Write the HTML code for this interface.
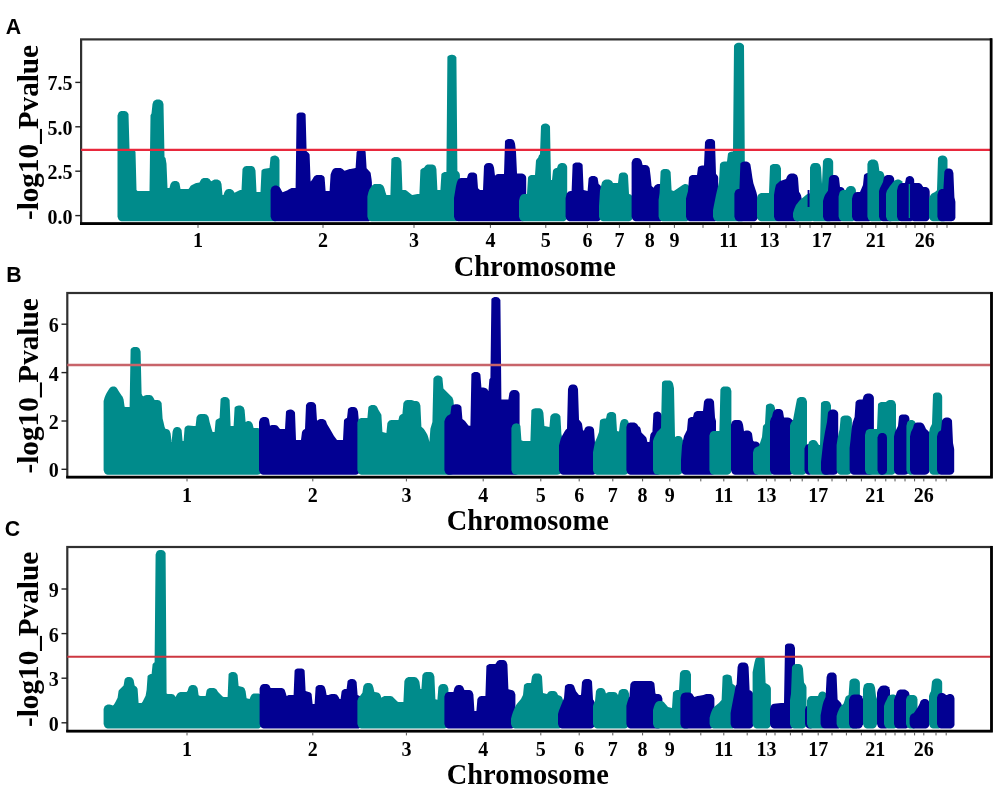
<!DOCTYPE html>
<html><head><meta charset="utf-8"><title>Manhattan plots</title>
<style>html,body{margin:0;padding:0;background:#fff}svg{display:block}</style></head>
<body>
<svg width="1000" height="798" viewBox="0 0 1000 798">
<rect width="1000" height="798" fill="#fff"/>
<g>
<text x="5.8" y="34.2" font-family="'Liberation Sans', sans-serif" font-weight="bold" font-size="21.3" fill="#000">A</text>
<rect x="81.1" y="39.4" width="910.0" height="184.2" fill="#fff" stroke="#303030" stroke-width="2.2"/>
<path fill="#008b8b" d="M117.5,115.5 118.5,112.7 119.5,111.8 120.5,111.3 121.5,111.0 124.5,111.0 125.5,111.2 126.5,111.6 127.5,112.4 128.5,114.0 129.5,149.1 131.5,149.3 132.5,149.4 133.5,149.7 134.5,150.4 135.5,151.7 136.5,190.0 137.5,191.0 149.5,191.0 150.5,115.3 151.5,113.6 152.5,104.1 153.5,101.3 154.5,100.4 155.5,99.9 156.5,99.6 158.5,99.6 159.5,99.6 160.5,99.9 161.5,100.4 162.5,101.3 163.5,104.1 164.5,157.0 165.5,158.1 166.5,163.8 167.5,188.0 169.5,188.0 170.5,184.0 171.5,182.4 172.5,181.6 173.5,181.2 174.5,181.0 175.5,181.0 176.5,181.1 177.5,181.5 178.5,182.1 179.5,183.4 180.5,189.0 188.5,189.0 189.5,187.7 190.5,186.0 191.5,185.3 195.5,183.3 196.5,182.9 199.5,182.5 200.5,180.4 201.5,179.1 202.5,178.5 203.5,178.1 204.5,178.0 206.5,178.0 207.5,178.1 208.5,178.5 209.5,179.1 210.5,180.4 211.5,181.3 212.5,180.4 213.5,179.9 214.5,179.6 216.5,179.6 217.5,179.6 218.5,179.9 219.5,180.4 220.5,181.3 221.5,184.1 222.5,195.0 223.5,195.0 224.5,192.0 225.5,190.4 226.5,189.6 227.5,189.2 228.5,189.0 229.5,189.0 230.5,189.1 231.5,189.4 232.5,189.9 233.5,191.0 234.5,192.8 238.5,190.8 239.5,190.3 240.5,190.1 241.5,190.0 242.5,169.0 243.5,167.4 244.5,166.6 245.5,166.2 246.5,166.0 250.5,166.0 251.5,166.0 252.5,166.3 253.5,166.8 254.5,167.7 255.5,170.5 256.5,192.0 260.5,192.0 261.5,170.6 262.5,169.5 263.5,169.0 264.5,168.7 269.5,168.0 270.5,157.6 271.5,156.5 272.5,156.0 273.5,155.7 274.5,155.6 275.5,155.6 276.5,155.9 277.5,156.4 278.5,157.3 279.5,160.1 L279.5,217.7 278.5,219.7 277.5,220.6 276.5,221.1 275.5,221.3 122.5,221.3 121.5,221.3 120.5,221.0 119.5,220.5 118.5,219.6 117.5,216.8Z"/>
<path fill="#020092" d="M270.6,190.1 271.6,187.3 272.6,186.4 273.6,185.9 274.6,185.6 275.6,185.6 276.6,185.6 277.6,185.9 278.6,186.4 279.6,187.2 280.6,188.8 281.6,190.8 282.6,192.3 287.6,190.2 288.6,189.6 289.6,188.9 290.6,188.4 291.6,188.1 292.6,188.0 295.6,188.0 296.6,114.4 297.6,113.3 298.6,112.8 299.6,112.5 300.6,112.4 301.6,112.4 302.6,112.5 303.6,112.8 304.6,113.3 305.6,114.4 306.6,151.2 308.6,152.9 309.6,154.5 310.6,181.4 311.6,180.4 312.6,179.0 313.6,177.3 314.6,176.1 315.6,175.5 316.6,175.1 317.6,175.0 320.6,175.0 321.6,175.1 322.6,175.5 323.6,176.1 324.6,177.4 325.6,191.0 329.6,191.0 330.6,174.4 331.6,171.7 332.6,169.7 333.6,168.8 334.6,168.3 335.6,168.1 336.6,168.0 339.6,168.0 340.6,168.1 341.6,168.5 342.6,169.0 343.6,170.1 344.6,170.8 349.6,169.1 350.6,168.9 355.6,168.1 356.6,152.0 357.6,150.7 358.6,150.1 359.6,149.7 360.6,149.6 361.6,149.6 362.6,149.7 363.6,150.0 364.6,150.5 365.6,151.6 366.6,168.2 369.6,171.5 370.6,172.8 371.6,179.6 371.9,182.4 L371.9,218.0 371.6,218.7 370.6,220.1 369.6,220.8 368.6,221.2 367.6,221.3 275.6,221.3 274.6,221.3 273.6,221.0 272.6,220.5 271.6,219.6 270.6,216.8Z"/>
<path fill="#008b8b" d="M367.4,196.5 368.4,192.3 369.4,189.4 371.4,186.4 372.4,185.2 373.4,184.5 374.4,184.1 375.4,184.0 379.4,184.0 380.4,184.1 381.4,184.4 382.4,184.9 383.4,186.0 384.4,188.2 385.4,192.0 386.4,195.0 390.4,195.0 391.4,159.0 392.4,157.9 393.4,157.4 394.4,157.1 395.4,157.0 397.4,157.0 398.4,157.3 399.4,157.8 400.4,158.7 401.4,161.5 402.4,190.0 404.4,190.0 405.4,190.1 406.4,190.5 407.4,191.2 411.4,194.5 412.4,194.9 417.4,194.1 418.4,194.0 419.4,194.0 420.4,170.0 421.4,168.9 422.4,168.3 423.4,168.1 424.4,167.3 425.4,165.8 426.4,165.0 427.4,164.6 428.4,164.4 431.4,164.4 432.4,164.4 433.4,164.7 434.4,165.2 435.4,166.1 436.4,168.9 437.4,190.0 440.4,190.0 441.4,174.0 442.4,172.9 443.4,172.4 444.4,172.1 445.4,172.0 446.4,172.0 447.4,56.8 448.4,55.7 449.4,55.2 450.4,54.9 451.4,54.8 452.4,54.8 453.4,54.9 454.4,55.3 455.4,55.9 456.4,57.2 457.4,171.1 458.4,171.8 459.4,173.1 459.9,175.1 L459.9,217.7 459.4,219.0 458.4,220.2 457.4,220.9 456.4,221.2 455.4,221.3 372.4,221.3 371.4,221.3 370.4,221.0 369.4,220.5 368.4,219.6 367.4,216.8Z"/>
<path fill="#020092" d="M454.0,198.0 456.0,186.0 457.0,182.0 458.0,179.7 459.0,178.8 460.0,178.3 461.0,178.0 467.0,178.0 468.0,174.4 469.0,173.3 470.0,172.8 471.0,172.5 472.0,172.4 473.0,172.4 474.0,172.5 475.0,172.9 476.0,173.5 477.0,174.8 478.0,188.3 480.0,190.0 483.0,190.0 484.0,166.0 485.0,164.4 486.0,163.6 487.0,163.2 488.0,163.0 490.0,163.0 491.0,163.3 492.0,163.8 493.0,164.7 494.0,167.5 495.0,175.7 496.0,174.8 497.0,174.3 498.0,174.0 504.0,174.0 505.0,141.0 506.0,139.9 507.0,139.4 508.0,139.1 509.0,139.0 511.0,139.0 512.0,139.3 513.0,139.8 514.0,140.7 515.0,143.5 516.0,151.7 517.0,173.6 522.0,173.6 523.0,173.8 524.0,174.2 525.0,175.0 526.0,176.6 526.2,178.1 L526.2,218.0 526.0,218.7 525.0,220.1 524.0,220.8 523.0,221.2 522.0,221.3 459.0,221.3 458.0,221.3 457.0,221.0 456.0,220.5 455.0,219.6 454.0,216.8Z"/>
<path fill="#008b8b" d="M519.0,200.7 520.0,197.0 521.0,195.4 522.0,194.6 523.0,194.2 524.0,194.0 527.0,194.0 528.0,177.4 529.0,176.1 530.0,175.5 531.0,175.1 532.0,175.0 535.0,175.0 536.0,160.4 537.0,158.8 538.0,158.0 539.0,155.2 540.0,154.2 541.0,126.0 542.0,124.7 543.0,124.1 544.0,123.7 545.0,123.6 546.0,123.6 547.0,123.8 548.0,124.2 549.0,125.0 550.0,126.6 551.0,180.0 552.0,180.0 553.0,170.4 554.0,169.1 555.0,168.5 556.0,168.1 557.0,168.0 558.0,165.0 559.0,163.9 560.0,163.4 561.0,163.1 562.0,163.0 563.0,163.0 564.0,163.2 565.0,163.6 566.0,164.4 567.0,166.0 567.2,167.5 L567.2,218.0 567.0,218.7 566.0,220.1 565.0,220.8 564.0,221.2 563.0,221.3 524.0,221.3 523.0,221.3 522.0,221.0 521.0,220.5 520.0,219.6 519.0,216.8Z"/>
<path fill="#020092" d="M565.6,198.2 566.6,193.7 567.6,192.4 568.6,191.6 569.6,191.2 570.6,191.0 571.6,191.0 572.6,164.8 573.6,163.5 574.6,162.9 575.6,162.5 576.6,162.4 578.6,162.4 579.6,162.5 580.6,162.9 581.6,163.5 582.6,164.8 583.6,190.1 587.6,190.9 588.6,178.4 589.6,177.1 590.6,176.5 591.6,176.1 592.6,176.0 593.6,176.0 594.6,176.1 595.6,176.4 596.6,176.9 597.6,178.0 598.6,184.1 599.6,184.7 600.6,185.7 601.6,188.5 L601.6,216.8 600.6,219.6 599.6,220.5 598.6,221.0 597.6,221.3 570.6,221.3 569.6,221.3 568.6,221.0 567.6,220.5 566.6,219.6 565.6,216.8Z"/>
<path fill="#008b8b" d="M599.0,206.0 600.0,190.5 601.0,186.3 602.0,182.3 603.0,181.0 604.0,180.2 605.0,179.8 606.0,179.6 608.0,179.6 609.0,179.6 610.0,179.9 611.0,180.4 612.0,181.3 613.0,183.0 618.0,183.0 619.0,174.4 620.0,173.3 621.0,172.8 622.0,172.5 623.0,172.4 624.0,172.4 625.0,172.6 626.0,173.0 627.0,173.8 628.0,175.4 629.0,194.0 630.0,194.3 631.0,194.8 632.0,195.7 633.0,198.5 L633.0,216.8 632.0,219.6 631.0,220.5 630.0,221.0 629.0,221.3 604.0,221.3 603.0,221.3 602.0,221.0 601.0,220.5 600.0,219.6 599.0,216.8Z"/>
<path fill="#020092" d="M631.6,162.5 632.6,159.7 633.6,158.8 634.6,158.3 635.6,158.0 637.6,158.0 638.6,158.2 639.6,158.6 640.6,159.4 641.6,161.0 642.6,165.0 645.6,165.0 646.6,165.2 647.6,165.6 648.6,166.4 649.6,168.0 650.6,176.0 651.6,186.0 653.6,187.7 654.6,186.0 655.6,184.9 656.6,184.4 657.6,184.1 658.6,184.0 659.6,184.0 660.6,184.2 661.6,184.6 662.6,185.4 663.6,187.0 663.9,188.5 L663.9,218.0 663.6,218.7 662.6,220.1 661.6,220.8 660.6,221.2 659.6,221.3 636.6,221.3 635.6,221.3 634.6,221.0 633.6,220.5 632.6,219.6 631.6,216.8Z"/>
<path fill="#008b8b" d="M658.6,200.0 659.6,192.9 660.6,171.4 661.6,170.1 662.6,169.5 663.6,169.1 664.6,169.0 666.6,169.0 667.6,169.2 668.6,169.6 669.6,170.4 670.6,172.0 671.6,190.2 673.6,190.9 674.6,190.6 682.6,185.0 683.6,184.4 684.6,184.1 685.6,184.1 686.6,184.2 687.6,184.6 688.6,185.4 689.6,187.1 689.9,188.5 L689.9,218.0 689.6,218.7 688.6,220.1 687.6,220.8 686.6,221.2 685.6,221.3 663.6,221.3 662.6,221.3 661.6,221.0 660.6,220.5 659.6,219.6 658.6,216.8Z"/>
<path fill="#020092" d="M686.0,198.6 687.0,194.7 688.0,191.3 689.0,177.4 690.0,176.1 691.0,175.5 692.0,175.1 693.0,175.0 697.0,175.0 698.0,167.6 699.0,166.5 700.0,166.0 701.0,165.7 702.0,165.6 704.0,165.6 705.0,142.0 706.0,140.4 707.0,139.6 708.0,139.2 709.0,139.0 711.0,139.0 712.0,139.1 713.0,139.5 714.0,140.1 715.0,141.4 716.0,174.1 717.0,174.9 718.0,176.6 718.2,178.0 L718.2,218.0 718.0,218.7 717.0,220.1 716.0,220.8 715.0,221.2 714.0,221.3 691.0,221.3 690.0,221.3 689.0,221.0 688.0,220.5 687.0,219.6 686.0,216.8Z"/>
<path fill="#008b8b" d="M713.0,210.2 714.0,205.0 716.0,195.0 719.0,182.0 720.0,164.0 721.0,162.7 722.0,162.1 723.0,161.7 724.0,161.6 727.0,161.6 728.0,153.6 729.0,152.5 730.0,152.0 731.0,151.7 732.0,151.6 733.0,151.6 734.0,45.8 735.0,44.2 736.0,43.4 737.0,43.0 738.0,42.8 740.0,42.8 741.0,43.0 742.0,43.4 743.0,44.2 744.0,45.8 745.0,190.5 746.0,193.4 L746.0,216.8 745.0,219.6 744.0,220.5 743.0,221.0 742.0,221.3 718.0,221.3 717.0,221.3 716.0,221.0 715.0,220.5 714.0,219.6 713.0,216.8Z"/>
<path fill="#020092" d="M734.4,193.5 735.4,190.7 736.4,189.8 737.4,189.3 738.4,189.0 739.4,189.0 740.4,163.6 741.4,162.5 742.4,162.0 743.4,161.7 744.4,161.6 746.4,161.6 747.4,161.8 748.4,162.2 749.4,163.0 750.4,164.6 751.4,170.8 752.4,177.8 753.4,183.2 756.4,192.2 757.4,196.4 757.9,199.4 L757.9,217.7 757.4,219.0 756.4,220.2 755.4,220.9 754.4,221.2 753.4,221.3 739.4,221.3 738.4,221.3 737.4,221.0 736.4,220.5 735.4,219.6 734.4,216.8Z"/>
<path fill="#008b8b" d="M757.0,198.2 758.0,195.0 759.0,193.9 760.0,193.4 761.0,193.1 762.0,193.0 769.0,193.0 770.0,166.0 771.0,164.9 772.0,164.4 773.0,164.1 774.0,164.0 776.0,164.0 777.0,164.0 778.0,164.3 779.0,164.8 780.0,165.7 781.0,168.5 L781.0,217.1 780.0,219.6 779.0,220.5 778.0,221.0 777.0,221.3 762.0,221.3 761.0,221.3 760.0,221.0 759.0,220.5 758.0,219.6 757.0,216.8Z"/>
<path fill="#020092" d="M774.0,195.0 775.0,188.8 776.0,184.8 777.0,183.7 779.0,181.9 780.0,181.1 781.0,180.7 786.0,179.0 787.0,176.4 788.0,175.0 789.0,174.2 790.0,173.8 791.0,173.6 793.0,173.6 794.0,173.6 795.0,173.9 796.0,174.4 797.0,175.3 798.0,178.1 799.0,191.7 800.0,193.3 801.0,195.2 802.0,200.2 L802.0,216.8 801.0,219.6 800.0,220.5 799.0,221.0 798.0,221.3 779.0,221.3 778.0,221.3 777.0,221.0 776.0,220.5 775.0,219.6 774.0,216.8Z"/>
<path fill="#008b8b" d="M793.0,212.9 794.0,209.7 795.0,207.3 796.0,205.1 797.0,203.8 799.0,201.2 800.0,200.0 806.0,194.9 807.0,194.2 808.0,193.8 810.0,193.3 811.0,193.3 812.0,193.5 813.0,194.0 814.0,194.9 815.0,197.8 L815.0,216.8 814.0,219.6 813.0,220.5 812.0,221.0 811.0,221.3 798.0,221.3 797.0,221.3 796.0,221.0 795.0,220.5 794.0,219.6 793.0,216.8Z"/>
<rect x="807.6" y="190.0" width="1.9" height="17.0" fill="#020092"/>
<path fill="#008b8b" d="M810.0,167.5 811.0,164.7 812.0,163.8 813.0,163.3 814.0,163.0 816.0,163.0 817.0,163.0 818.0,163.3 819.0,163.8 820.0,164.7 821.0,167.5 822.0,184.0 823.0,161.0 824.0,159.4 825.0,158.6 826.0,158.2 827.0,158.0 829.0,158.0 830.0,158.2 831.0,158.6 832.0,159.4 833.0,161.0 833.2,162.5 L833.2,218.0 833.0,218.7 832.0,220.1 831.0,220.8 830.0,221.2 829.0,221.3 815.0,221.3 814.0,221.3 813.0,221.0 812.0,220.5 811.0,219.6 810.0,216.8Z"/>
<path fill="#020092" d="M823.0,200.9 824.0,197.5 825.0,195.1 826.0,193.6 828.0,190.8 829.0,178.0 830.0,176.4 831.0,175.6 832.0,175.2 833.0,175.0 835.0,175.0 836.0,175.2 837.0,175.6 838.0,176.4 839.0,178.0 840.0,187.0 841.0,187.0 842.0,187.3 843.0,187.8 844.0,188.7 845.0,191.5 L845.0,217.1 844.0,219.6 843.0,220.5 842.0,221.0 841.0,221.3 828.0,221.3 827.0,221.3 826.0,221.0 825.0,220.5 824.0,219.6 823.0,216.8Z"/>
<path fill="#008b8b" d="M838.6,196.4 839.6,192.4 840.6,191.1 841.6,190.5 842.6,190.1 843.6,190.0 845.6,190.0 846.6,188.0 847.6,186.9 848.6,186.4 849.6,186.1 850.6,186.0 851.6,186.0 852.6,186.2 853.6,186.6 854.6,187.4 855.6,189.0 855.9,190.5 L855.9,218.0 855.6,218.7 854.6,220.1 853.6,220.8 852.6,221.2 851.6,221.3 843.6,221.3 842.6,221.3 841.6,221.0 840.6,220.5 839.6,219.6 838.6,216.8Z"/>
<path fill="#020092" d="M852.0,198.7 853.0,195.0 854.0,193.4 855.0,192.6 856.0,192.2 857.0,192.0 860.0,192.0 863.0,185.0 864.0,175.0 865.0,173.9 866.0,173.4 867.0,173.1 868.0,173.0 869.0,173.0 870.0,173.3 871.0,173.8 872.0,174.7 873.0,177.5 L873.0,217.1 872.0,219.6 871.0,220.5 870.0,221.0 869.0,221.3 857.0,221.3 856.0,221.3 855.0,221.0 854.0,220.5 853.0,219.6 852.0,216.8Z"/>
<path fill="#008b8b" d="M867.4,164.1 868.4,161.3 869.4,160.4 870.4,159.9 871.4,159.6 873.4,159.6 874.4,159.6 875.4,159.9 876.4,160.4 877.4,161.3 878.4,164.1 879.4,171.0 880.4,171.0 881.4,171.3 882.4,171.8 883.4,172.7 884.4,175.5 L884.4,217.1 883.4,219.6 882.4,220.5 881.4,221.0 880.4,221.3 872.4,221.3 871.4,221.3 870.4,221.0 869.4,220.5 868.4,219.6 867.4,216.8Z"/>
<path fill="#020092" d="M879.0,191.1 880.0,188.0 883.0,182.0 884.0,177.0 885.0,175.9 886.0,175.4 887.0,175.1 888.0,175.0 890.0,175.0 891.0,175.2 892.0,175.6 893.0,176.4 894.0,178.0 894.2,179.5 L894.2,218.0 894.0,218.7 893.0,220.1 892.0,220.8 891.0,221.2 890.0,221.3 884.0,221.3 883.0,221.3 882.0,221.0 881.0,220.5 880.0,219.6 879.0,216.8Z"/>
<path fill="#008b8b" d="M886.0,193.4 887.0,190.5 889.0,187.5 890.0,186.0 893.0,182.2 894.0,181.1 895.0,180.3 896.0,179.9 897.0,179.6 898.0,179.6 899.0,179.6 900.0,179.9 901.0,180.4 902.0,181.3 903.0,184.1 L903.0,217.1 902.0,219.6 901.0,220.5 900.0,221.0 899.0,221.3 891.0,221.3 890.0,221.3 889.0,221.0 888.0,220.5 887.0,219.6 886.0,216.8Z"/>
<path fill="#020092" d="M897.0,190.6 898.0,186.5 899.0,184.7 900.0,183.8 901.0,183.3 902.0,183.0 905.0,183.0 906.0,178.0 907.0,176.9 908.0,176.4 909.0,176.1 910.0,176.0 911.0,176.2 912.0,176.6 913.0,177.4 914.0,179.0 914.2,180.5 L914.2,218.0 914.0,218.7 913.0,220.1 912.0,220.8 911.0,221.2 910.0,221.3 902.0,221.3 901.0,221.3 900.0,221.0 899.0,220.5 898.0,219.6 897.0,216.8Z"/>
<rect x="908.7" y="184.0" width="1.4" height="34.0" fill="#008b8b"/>
<path fill="#020092" d="M910.2,187.5 911.2,184.7 912.2,183.8 913.2,183.3 914.2,183.0 918.2,183.0 919.2,183.1 920.2,183.5 921.2,184.1 922.2,185.4 923.2,187.0 925.2,187.0 926.2,187.1 927.2,187.5 928.2,188.1 929.2,189.4 929.7,191.5 L929.7,217.7 929.2,219.0 928.2,220.2 927.2,220.9 926.2,221.2 925.2,221.3 915.2,221.3 914.2,221.3 913.2,221.0 912.2,220.5 911.2,219.6 910.2,216.8Z"/>
<path fill="#008b8b" d="M929.0,199.1 930.0,196.0 931.0,194.4 932.0,193.5 935.0,192.0 937.0,190.3 938.0,158.0 939.0,156.7 940.0,156.1 941.0,155.7 942.0,155.6 943.0,155.6 944.0,155.7 945.0,156.1 946.0,156.7 947.0,158.0 947.5,160.1 L947.5,217.8 947.0,219.1 946.0,220.2 945.0,220.9 944.0,221.2 943.0,221.3 934.0,221.3 933.0,221.3 932.0,221.0 931.0,220.5 930.0,219.6 929.0,216.8Z"/>
<path fill="#020092" d="M937.4,194.7 938.4,191.4 939.4,190.1 940.4,189.5 941.4,189.1 942.4,189.0 943.4,189.0 944.4,171.4 945.4,169.8 946.4,169.0 947.4,168.6 948.4,168.4 949.4,168.4 950.4,168.7 951.4,169.2 952.4,170.1 953.4,172.9 954.4,197.2 955.4,201.7 L955.4,218.1 954.4,219.9 953.4,220.7 952.4,221.1 951.4,221.3 942.4,221.3 941.4,221.3 940.4,221.0 939.4,220.5 938.4,219.6 937.4,216.8Z"/>
<line x1="81.1" x2="991.1" y1="149.9" y2="149.9" stroke="#e8283c" stroke-width="2.1"/>
<path d="M80.0,223.6 H991.1 V38.3" fill="none" stroke="#000" stroke-width="2.7" stroke-linejoin="miter"/>
<line x1="75.3" x2="81.1" y1="82.4" y2="82.4" stroke="#222" stroke-width="1.4"/>
<text x="72.5" y="90.4" text-anchor="end" font-family="'Liberation Serif', serif" font-weight="bold" font-size="20" fill="#000">7.5</text>
<line x1="75.3" x2="81.1" y1="126.8" y2="126.8" stroke="#222" stroke-width="1.4"/>
<text x="72.5" y="134.8" text-anchor="end" font-family="'Liberation Serif', serif" font-weight="bold" font-size="20" fill="#000">5.0</text>
<line x1="75.3" x2="81.1" y1="171.2" y2="171.2" stroke="#222" stroke-width="1.4"/>
<text x="72.5" y="179.2" text-anchor="end" font-family="'Liberation Serif', serif" font-weight="bold" font-size="20" fill="#000">2.5</text>
<line x1="75.3" x2="81.1" y1="215.6" y2="215.6" stroke="#222" stroke-width="1.4"/>
<text x="72.5" y="223.6" text-anchor="end" font-family="'Liberation Serif', serif" font-weight="bold" font-size="20" fill="#000">0.0</text>
<line x1="198.0" x2="198.0" y1="224.8" y2="227.9" stroke="#555" stroke-width="1"/>
<line x1="323.0" x2="323.0" y1="224.8" y2="227.9" stroke="#555" stroke-width="1"/>
<line x1="414.0" x2="414.0" y1="224.8" y2="227.9" stroke="#555" stroke-width="1"/>
<line x1="490.4" x2="490.4" y1="224.8" y2="227.9" stroke="#555" stroke-width="1"/>
<line x1="545.8" x2="545.8" y1="224.8" y2="227.9" stroke="#555" stroke-width="1"/>
<line x1="587.4" x2="587.4" y1="224.8" y2="227.9" stroke="#555" stroke-width="1"/>
<line x1="619.4" x2="619.4" y1="224.8" y2="227.9" stroke="#555" stroke-width="1"/>
<line x1="649.8" x2="649.8" y1="224.8" y2="227.9" stroke="#555" stroke-width="1"/>
<line x1="674.4" x2="674.4" y1="224.8" y2="227.9" stroke="#555" stroke-width="1"/>
<line x1="703.0" x2="703.0" y1="224.8" y2="227.9" stroke="#555" stroke-width="1"/>
<line x1="728.6" x2="728.6" y1="224.8" y2="227.9" stroke="#555" stroke-width="1"/>
<line x1="751.0" x2="751.0" y1="224.8" y2="227.9" stroke="#555" stroke-width="1"/>
<line x1="769.6" x2="769.6" y1="224.8" y2="227.9" stroke="#555" stroke-width="1"/>
<line x1="786.0" x2="786.0" y1="224.8" y2="227.9" stroke="#555" stroke-width="1"/>
<line x1="800.0" x2="800.0" y1="224.8" y2="227.9" stroke="#555" stroke-width="1"/>
<line x1="810.0" x2="810.0" y1="224.8" y2="227.9" stroke="#555" stroke-width="1"/>
<line x1="821.8" x2="821.8" y1="224.8" y2="227.9" stroke="#555" stroke-width="1"/>
<line x1="835.0" x2="835.0" y1="224.8" y2="227.9" stroke="#555" stroke-width="1"/>
<line x1="848.0" x2="848.0" y1="224.8" y2="227.9" stroke="#555" stroke-width="1"/>
<line x1="862.0" x2="862.0" y1="224.8" y2="227.9" stroke="#555" stroke-width="1"/>
<line x1="875.8" x2="875.8" y1="224.8" y2="227.9" stroke="#555" stroke-width="1"/>
<line x1="887.0" x2="887.0" y1="224.8" y2="227.9" stroke="#555" stroke-width="1"/>
<line x1="897.0" x2="897.0" y1="224.8" y2="227.9" stroke="#555" stroke-width="1"/>
<line x1="906.0" x2="906.0" y1="224.8" y2="227.9" stroke="#555" stroke-width="1"/>
<line x1="915.0" x2="915.0" y1="224.8" y2="227.9" stroke="#555" stroke-width="1"/>
<line x1="924.8" x2="924.8" y1="224.8" y2="227.9" stroke="#555" stroke-width="1"/>
<line x1="937.0" x2="937.0" y1="224.8" y2="227.9" stroke="#555" stroke-width="1"/>
<line x1="947.0" x2="947.0" y1="224.8" y2="227.9" stroke="#555" stroke-width="1"/>
<text x="198.0" y="246.9" text-anchor="middle" font-family="'Liberation Serif', serif" font-weight="bold" font-size="20" fill="#000">1</text>
<text x="323.0" y="246.9" text-anchor="middle" font-family="'Liberation Serif', serif" font-weight="bold" font-size="20" fill="#000">2</text>
<text x="414.0" y="246.9" text-anchor="middle" font-family="'Liberation Serif', serif" font-weight="bold" font-size="20" fill="#000">3</text>
<text x="490.4" y="246.9" text-anchor="middle" font-family="'Liberation Serif', serif" font-weight="bold" font-size="20" fill="#000">4</text>
<text x="545.8" y="246.9" text-anchor="middle" font-family="'Liberation Serif', serif" font-weight="bold" font-size="20" fill="#000">5</text>
<text x="587.4" y="246.9" text-anchor="middle" font-family="'Liberation Serif', serif" font-weight="bold" font-size="20" fill="#000">6</text>
<text x="619.4" y="246.9" text-anchor="middle" font-family="'Liberation Serif', serif" font-weight="bold" font-size="20" fill="#000">7</text>
<text x="649.8" y="246.9" text-anchor="middle" font-family="'Liberation Serif', serif" font-weight="bold" font-size="20" fill="#000">8</text>
<text x="674.4" y="246.9" text-anchor="middle" font-family="'Liberation Serif', serif" font-weight="bold" font-size="20" fill="#000">9</text>
<text x="728.6" y="246.9" text-anchor="middle" font-family="'Liberation Serif', serif" font-weight="bold" font-size="20" fill="#000">11</text>
<text x="769.6" y="246.9" text-anchor="middle" font-family="'Liberation Serif', serif" font-weight="bold" font-size="20" fill="#000">13</text>
<text x="821.8" y="246.9" text-anchor="middle" font-family="'Liberation Serif', serif" font-weight="bold" font-size="20" fill="#000">17</text>
<text x="875.8" y="246.9" text-anchor="middle" font-family="'Liberation Serif', serif" font-weight="bold" font-size="20" fill="#000">21</text>
<text x="924.8" y="246.9" text-anchor="middle" font-family="'Liberation Serif', serif" font-weight="bold" font-size="20" fill="#000">26</text>
<text x="534.8" y="276.3" text-anchor="middle" font-family="'Liberation Serif', serif" font-weight="bold" font-size="28.4" fill="#000">Chromosome</text>
<text transform="translate(37.6,132.5) rotate(-90)" text-anchor="middle" font-family="'Liberation Serif', serif" font-weight="bold" font-size="29.2" fill="#000">-log10_Pvalue</text>
</g>
<g>
<text x="6.3" y="282.1" font-family="'Liberation Sans', sans-serif" font-weight="bold" font-size="21.3" fill="#000">B</text>
<rect x="67.3" y="293.0" width="924.2" height="184.1" fill="#fff" stroke="#303030" stroke-width="2.2"/>
<path fill="#008b8b" d="M103.6,400.9 104.6,397.5 105.6,395.0 106.6,393.0 108.6,389.7 109.6,388.2 110.6,387.3 111.6,386.8 112.6,386.5 113.6,386.4 114.6,386.6 115.6,387.0 116.6,387.8 117.6,389.3 118.6,390.9 121.6,395.4 122.6,396.8 123.6,399.6 124.6,406.7 125.6,407.0 129.6,407.0 130.6,349.4 131.6,348.1 132.6,347.5 133.6,347.1 134.6,347.0 136.6,347.0 137.6,347.3 138.6,347.8 139.6,348.7 140.6,351.5 141.6,393.8 142.6,396.1 143.6,396.3 144.6,395.6 145.6,395.2 146.6,395.0 149.6,395.0 150.6,395.2 151.6,395.6 152.6,396.4 153.6,397.9 154.6,400.0 157.6,400.0 158.6,400.2 159.6,400.6 160.6,401.4 161.6,403.0 162.6,418.4 163.6,422.4 164.6,427.0 165.6,429.0 166.6,429.0 167.6,429.3 168.6,429.8 169.6,430.7 170.6,433.5 171.6,442.0 172.6,431.5 173.6,428.7 174.6,427.8 175.6,427.3 176.6,427.0 177.6,427.0 178.6,427.2 179.6,427.6 180.6,428.4 181.6,430.0 182.6,441.0 183.6,441.0 184.6,427.9 185.6,426.6 186.6,426.0 187.6,425.6 188.6,425.5 193.6,426.0 195.6,426.0 196.6,416.9 197.6,415.4 198.6,414.6 199.6,414.2 200.6,414.0 204.6,414.0 205.6,414.2 206.6,414.6 207.6,415.4 208.6,417.0 209.6,422.0 211.6,429.1 212.6,432.0 214.6,432.0 215.6,420.8 216.6,419.6 217.6,418.9 219.6,418.0 220.6,399.0 221.6,397.9 222.6,397.4 223.6,397.1 224.6,397.0 225.6,397.0 226.6,397.2 227.6,397.6 228.6,398.4 229.6,400.0 230.6,426.0 233.6,426.0 234.6,407.6 235.6,406.5 236.6,406.0 237.6,405.7 238.6,405.6 240.6,405.6 241.6,405.9 242.6,406.4 243.6,407.3 244.6,410.1 245.6,421.9 246.6,421.4 247.6,421.1 248.6,421.0 249.6,421.2 250.6,421.6 251.6,422.4 252.6,424.0 253.6,428.0 257.6,428.0 258.6,428.2 259.6,428.6 260.6,429.4 261.6,431.0 261.9,432.5 L261.9,471.4 261.6,472.1 260.6,473.5 259.6,474.2 258.6,474.6 257.6,474.7 108.6,474.7 107.6,474.7 106.6,474.4 105.6,473.9 104.6,473.0 103.6,470.2Z"/>
<path fill="#020092" d="M259.0,422.0 260.0,419.0 261.0,417.9 262.0,417.4 263.0,417.1 264.0,417.0 265.0,417.0 266.0,417.1 267.0,417.5 268.0,418.1 269.0,419.4 270.0,425.7 271.0,425.3 272.0,425.0 275.0,425.0 276.0,425.2 277.0,425.6 278.0,426.4 279.0,427.7 280.0,429.0 285.0,429.0 286.0,411.6 287.0,410.5 288.0,410.0 289.0,409.7 290.0,409.6 291.0,409.6 292.0,409.8 293.0,410.2 294.0,411.0 295.0,412.6 296.0,440.0 301.0,440.0 302.0,432.0 303.0,430.3 304.0,429.5 305.0,429.1 306.0,405.0 307.0,403.4 308.0,402.6 309.0,402.2 310.0,402.0 312.0,402.0 313.0,402.2 314.0,402.6 315.0,403.4 316.0,405.0 317.0,420.8 318.0,419.9 319.0,419.4 320.0,419.1 321.0,419.0 322.0,419.0 323.0,419.1 324.0,419.4 325.0,419.9 326.0,421.0 327.0,424.0 330.0,429.0 334.0,436.0 337.0,440.0 343.0,440.0 344.0,419.9 345.0,418.9 346.0,418.3 347.0,418.0 348.0,409.0 349.0,407.9 350.0,407.4 351.0,407.1 352.0,407.0 354.0,407.0 355.0,407.3 356.0,407.8 357.0,408.7 358.0,411.5 359.0,422.5 360.0,425.9 L360.0,470.2 359.0,473.0 358.0,473.9 357.0,474.4 356.0,474.7 264.0,474.7 263.0,474.7 262.0,474.4 261.0,473.9 260.0,473.0 259.0,470.2Z"/>
<path fill="#008b8b" d="M357.4,422.6 358.4,419.7 359.4,418.8 360.4,418.3 361.4,418.1 362.4,418.0 367.4,418.0 368.4,407.0 369.4,405.9 370.4,405.4 371.4,405.1 372.4,405.0 373.4,405.0 374.4,405.1 375.4,405.5 376.4,406.1 377.4,407.4 378.4,409.7 380.4,413.0 381.4,414.8 382.4,432.1 386.4,432.9 387.4,423.0 388.4,421.4 389.4,420.6 390.4,420.2 391.4,420.0 398.4,420.0 399.4,416.0 400.4,414.9 401.4,414.3 402.4,414.1 403.4,403.0 404.4,401.4 405.4,400.6 406.4,400.2 407.4,400.0 411.4,400.0 412.4,400.2 414.4,401.0 416.4,401.0 417.4,401.3 418.4,401.8 419.4,402.7 420.4,405.5 421.4,426.8 423.4,428.5 424.4,429.7 426.4,433.0 427.4,434.7 428.4,437.7 429.4,442.0 430.4,428.7 432.4,422.0 433.4,378.6 434.4,377.0 435.4,376.2 436.4,375.8 437.4,375.6 438.4,375.6 439.4,375.7 440.4,376.1 441.4,376.7 442.4,378.0 443.4,388.4 451.4,396.4 452.4,397.5 453.4,400.3 454.4,411.2 454.9,413.3 L454.9,471.1 454.4,472.4 453.4,473.6 452.4,474.3 451.4,474.6 450.4,474.7 362.4,474.7 361.4,474.7 360.4,474.4 359.4,473.9 358.4,473.0 357.4,470.2Z"/>
<path fill="#020092" d="M444.4,421.3 445.4,418.5 446.4,416.9 447.4,415.8 448.4,415.2 450.4,414.1 451.4,406.3 452.4,405.2 453.4,404.7 454.4,404.4 455.4,404.3 457.4,404.3 458.4,404.4 459.4,404.8 460.4,405.4 461.4,406.7 462.4,418.9 464.4,420.5 465.4,421.5 468.4,425.4 469.4,425.7 470.4,425.7 471.4,374.0 472.4,372.9 473.4,372.4 474.4,372.1 475.4,372.0 476.4,372.0 477.4,372.1 478.4,372.5 479.4,373.1 480.4,374.4 481.4,387.6 483.4,387.6 484.4,387.7 485.4,387.9 486.4,388.4 487.4,389.3 488.4,391.3 489.4,379.3 490.4,378.0 491.4,299.0 492.4,297.9 493.4,297.4 494.4,297.1 495.4,297.0 496.4,297.0 497.4,297.2 498.4,297.6 499.4,298.4 500.4,300.0 501.4,399.5 508.4,399.5 509.4,393.0 510.4,391.4 511.4,390.6 512.4,390.2 513.4,390.0 515.4,390.0 516.4,390.2 517.4,390.6 518.4,391.4 519.4,393.0 519.6,394.5 L519.6,471.4 519.4,472.1 518.4,473.5 517.4,474.2 516.4,474.6 515.4,474.7 449.4,474.7 448.4,474.7 447.4,474.4 446.4,473.9 445.4,473.0 444.4,470.2Z"/>
<path fill="#008b8b" d="M511.4,428.0 512.4,425.2 513.4,424.2 514.4,423.7 515.4,423.4 516.4,423.3 517.4,423.4 518.4,423.8 519.4,424.4 520.4,425.7 521.4,440.2 522.4,440.7 523.4,441.0 530.4,441.0 531.4,410.3 532.4,409.2 533.4,408.7 534.4,408.4 535.4,408.3 538.4,408.3 539.4,408.3 540.4,408.6 541.4,409.1 542.4,410.0 543.4,412.8 544.4,425.9 549.4,426.9 550.4,416.3 551.4,414.7 552.4,413.9 553.4,413.5 554.4,413.3 556.4,413.3 557.4,413.5 558.4,413.9 559.4,414.7 560.4,416.3 561.4,434.1 561.9,436.2 L561.9,471.1 561.4,472.4 560.4,473.6 559.4,474.3 558.4,474.6 557.4,474.7 516.4,474.7 515.4,474.7 514.4,474.4 513.4,473.9 512.4,473.0 511.4,470.2Z"/>
<path fill="#020092" d="M559.0,445.6 560.0,441.5 561.0,438.1 562.0,436.1 564.0,432.4 565.0,430.7 566.0,429.6 567.0,428.8 568.0,389.0 569.0,386.2 570.0,385.3 571.0,384.8 572.0,384.5 573.0,384.5 574.0,384.5 575.0,384.8 576.0,385.3 577.0,386.2 578.0,389.0 579.0,419.8 581.0,422.1 582.0,423.8 583.0,430.5 584.0,430.5 585.0,427.9 586.0,427.0 587.0,426.5 588.0,426.2 590.0,426.2 591.0,426.4 592.0,426.8 593.0,427.6 594.0,429.2 595.0,442.9 596.0,447.0 597.0,450.7 L597.0,470.2 596.0,473.0 595.0,473.9 594.0,474.4 593.0,474.7 564.0,474.7 563.0,474.7 562.0,474.4 561.0,473.9 560.0,473.0 559.0,470.2Z"/>
<path fill="#008b8b" d="M593.0,452.2 594.0,447.0 595.0,442.0 597.0,437.6 599.0,432.0 600.0,420.6 601.0,419.5 602.0,419.0 603.0,418.7 604.0,418.6 606.0,418.6 607.0,414.0 608.0,412.9 609.0,412.4 610.0,412.1 611.0,412.0 612.0,412.0 613.0,412.1 614.0,412.5 615.0,413.1 616.0,414.4 617.0,431.1 619.0,431.5 620.0,423.5 621.0,420.7 622.0,419.8 623.0,419.3 624.0,419.0 625.0,419.0 626.0,419.3 627.0,419.8 628.0,420.7 629.0,423.5 L629.0,470.5 628.0,473.0 627.0,473.9 626.0,474.4 625.0,474.7 598.0,474.7 597.0,474.7 596.0,474.4 595.0,473.9 594.0,473.0 593.0,470.2Z"/>
<path fill="#020092" d="M626.4,426.9 627.4,424.1 628.4,423.2 629.4,422.7 630.4,422.4 633.4,422.4 634.4,422.5 635.4,422.9 636.4,423.5 637.4,424.6 638.4,426.2 639.4,426.8 640.4,428.1 641.4,432.4 645.4,436.4 646.4,437.7 647.4,442.0 649.4,442.0 650.4,434.4 651.4,432.8 652.4,432.0 653.4,413.6 654.4,412.5 655.4,412.0 656.4,411.7 657.4,411.6 658.4,411.7 659.4,412.1 660.4,412.7 661.4,414.0 661.9,416.1 L661.9,471.2 661.4,472.5 660.4,473.6 659.4,474.3 658.4,474.6 657.4,474.7 631.4,474.7 630.4,474.7 629.4,474.4 628.4,473.9 627.4,473.0 626.4,470.2Z"/>
<path fill="#008b8b" d="M653.0,441.1 654.0,438.0 656.0,434.0 657.0,432.1 658.0,431.0 661.0,428.0 662.0,382.4 663.0,381.3 664.0,380.8 665.0,380.5 666.0,380.4 669.0,380.4 670.0,380.6 671.0,381.0 672.0,381.8 673.0,383.4 674.0,388.3 675.0,436.9 676.0,436.4 677.0,436.1 678.0,436.0 679.0,436.0 680.0,436.3 681.0,436.8 682.0,437.7 683.0,440.5 L683.0,470.5 682.0,473.0 681.0,473.9 680.0,474.4 679.0,474.7 658.0,474.7 657.0,474.7 656.0,474.4 655.0,473.9 654.0,473.0 653.0,470.2Z"/>
<path fill="#020092" d="M681.0,460.0 682.0,445.4 683.0,440.5 684.0,436.1 685.0,434.0 687.0,430.0 688.0,419.0 689.0,417.9 690.0,417.4 691.0,417.1 692.0,417.0 693.0,417.0 694.0,413.0 695.0,411.9 696.0,411.4 697.0,411.1 698.0,411.0 703.0,411.0 704.0,401.4 705.0,399.8 706.0,399.0 707.0,398.6 708.0,398.4 710.0,398.4 711.0,398.6 712.0,399.0 713.0,399.8 714.0,401.4 715.0,417.5 716.0,420.9 L716.0,470.5 715.0,473.0 714.0,473.9 713.0,474.4 712.0,474.7 686.0,474.7 685.0,474.7 684.0,474.4 683.0,473.9 682.0,473.0 681.0,470.2Z"/>
<path fill="#008b8b" d="M709.4,435.5 710.4,432.7 711.4,431.8 712.4,431.3 713.4,431.0 719.4,431.0 720.4,389.4 721.4,387.8 722.4,387.0 723.4,386.6 724.4,386.4 726.4,386.4 727.4,386.4 728.4,386.7 729.4,387.2 730.4,388.1 731.4,390.9 L731.4,471.6 730.4,473.3 729.4,474.1 728.4,474.5 727.4,474.7 714.4,474.7 713.4,474.7 712.4,474.4 711.4,473.9 710.4,473.0 709.4,470.2Z"/>
<path fill="#020092" d="M731.0,424.5 732.0,421.7 733.0,420.8 734.0,420.3 735.0,420.0 738.0,420.0 739.0,420.0 740.0,420.3 741.0,420.8 742.0,421.7 743.0,424.5 744.0,431.2 745.0,430.8 746.0,430.6 748.0,430.6 749.0,430.8 750.0,431.2 751.0,432.0 752.0,433.6 753.0,440.6 754.0,441.6 756.0,441.6 757.0,441.8 758.0,442.2 759.0,443.0 760.0,444.6 760.2,446.1 L760.2,471.4 760.0,472.1 759.0,473.5 758.0,474.2 757.0,474.6 756.0,474.7 736.0,474.7 735.0,474.7 734.0,474.4 733.0,473.9 732.0,473.0 731.0,470.2Z"/>
<path fill="#008b8b" d="M753.0,452.5 754.0,449.0 755.0,447.9 756.0,447.2 759.0,446.0 761.0,440.0 762.0,437.1 763.0,426.0 764.0,424.7 765.0,424.0 766.0,405.6 767.0,404.5 768.0,404.0 769.0,403.7 770.0,403.6 771.0,403.6 772.0,403.9 773.0,404.4 774.0,405.3 775.0,408.1 L775.0,470.5 774.0,473.0 773.0,473.9 772.0,474.4 771.0,474.7 758.0,474.7 757.0,474.7 756.0,474.4 755.0,473.9 754.0,473.0 753.0,470.2Z"/>
<path fill="#020092" d="M770.0,421.2 771.0,418.3 772.0,416.7 773.0,412.5 774.0,410.7 775.0,409.8 776.0,409.3 777.0,409.0 779.0,409.0 780.0,409.1 781.0,409.5 782.0,410.1 783.0,411.4 784.0,417.6 788.0,417.6 789.0,417.7 790.0,418.1 791.0,418.7 793.0,420.5 794.0,423.3 L794.0,470.2 793.0,473.0 792.0,473.9 791.0,474.4 790.0,474.7 775.0,474.7 774.0,474.7 773.0,474.4 772.0,473.9 771.0,473.0 770.0,470.2Z"/>
<path fill="#008b8b" d="M790.0,425.5 791.0,422.7 793.0,420.0 796.0,404.0 797.0,399.0 798.0,397.9 799.0,397.4 800.0,397.1 801.0,397.0 803.0,397.0 804.0,397.3 805.0,397.8 806.0,398.7 807.0,401.5 L807.0,470.5 806.0,473.0 805.0,473.9 804.0,474.4 803.0,474.7 795.0,474.7 794.0,474.7 793.0,474.4 792.0,473.9 791.0,473.0 790.0,470.2Z"/>
<path fill="#020092" d="M804.5,448.5 805.5,445.7 806.5,444.8 807.5,444.3 808.5,444.0 809.5,444.0 810.5,444.1 811.5,444.5 812.5,445.1 813.5,446.4 814.0,448.5 L814.0,470.2 813.5,472.3 812.5,473.6 811.5,474.2 810.5,474.6 809.5,474.7 808.5,474.7 807.5,474.4 806.5,473.9 805.5,473.0 804.5,470.2Z"/>
<path fill="#008b8b" d="M808.0,445.2 809.0,442.0 810.0,440.9 811.0,440.4 812.0,440.1 813.0,440.0 814.0,440.0 815.0,440.3 816.0,440.8 817.0,441.7 818.0,443.5 819.0,445.0 820.0,445.0 821.0,403.0 822.0,401.9 823.0,401.4 824.0,401.1 825.0,401.0 827.0,401.0 828.0,401.3 829.0,401.8 830.0,402.7 831.0,405.5 L831.0,470.5 830.0,473.0 829.0,473.9 828.0,474.4 827.0,474.7 813.0,474.7 812.0,474.7 811.0,474.4 810.0,473.9 809.0,473.0 808.0,470.2Z"/>
<path fill="#020092" d="M821.0,462.0 823.0,444.0 825.0,432.0 827.0,422.0 828.0,412.6 829.0,411.0 830.0,410.2 831.0,409.8 832.0,409.6 834.0,409.6 835.0,409.8 836.0,410.2 837.0,411.0 838.0,412.6 838.2,414.1 L838.2,471.4 838.0,472.1 837.0,473.5 836.0,474.2 835.0,474.6 834.0,474.7 826.0,474.7 825.0,474.7 824.0,474.4 823.0,473.9 822.0,473.0 821.0,470.2Z"/>
<path fill="#008b8b" d="M836.6,445.0 837.6,438.6 838.6,433.6 839.6,429.6 840.6,418.0 841.6,416.7 842.6,416.1 843.6,415.7 844.6,415.6 847.6,415.6 848.6,415.8 849.6,416.2 850.6,417.0 851.6,418.6 851.9,420.1 L851.9,471.4 851.6,472.1 850.6,473.5 849.6,474.2 848.6,474.6 847.6,474.7 841.6,474.7 840.6,474.7 839.6,474.4 838.6,473.9 837.6,473.0 836.6,470.2Z"/>
<path fill="#020092" d="M849.6,448.0 850.6,439.4 851.6,428.8 852.6,422.4 854.6,417.1 855.6,402.0 856.6,400.7 857.6,400.1 858.6,399.7 859.6,399.6 862.6,399.6 863.6,396.0 864.6,394.7 865.6,394.1 866.6,393.7 867.6,393.6 869.6,393.6 870.6,393.8 871.6,394.2 872.6,395.0 873.6,396.6 873.9,398.1 L873.9,471.4 873.6,472.1 872.6,473.5 871.6,474.2 870.6,474.6 869.6,474.7 854.6,474.7 853.6,474.7 852.6,474.4 851.6,473.9 850.6,473.0 849.6,470.2Z"/>
<path fill="#008b8b" d="M865.0,435.0 866.0,431.0 867.0,429.9 868.0,429.4 869.0,429.1 870.0,429.0 877.0,429.0 878.0,404.0 879.0,402.9 880.0,402.4 881.0,402.1 882.0,402.0 886.0,402.0 887.0,400.9 888.0,400.4 889.0,400.1 890.0,400.0 892.0,400.0 893.0,400.3 894.0,400.8 895.0,401.7 896.0,404.5 L896.0,470.5 895.0,473.0 894.0,473.9 893.0,474.4 892.0,474.7 870.0,474.7 869.0,474.7 868.0,474.4 867.0,473.9 866.0,473.0 865.0,470.2Z"/>
<path fill="#020092" d="M877.5,437.5 878.5,434.7 879.5,433.8 880.5,433.3 881.5,433.0 882.5,433.0 883.5,433.1 884.5,433.5 885.5,434.1 886.5,435.4 887.0,437.5 L887.0,470.2 886.5,472.3 885.5,473.6 884.5,474.2 883.5,474.6 882.5,474.7 881.5,474.7 880.5,474.4 879.5,473.9 878.5,473.0 877.5,470.2Z"/>
<path fill="#020092" d="M894.0,436.5 895.0,432.1 896.0,430.0 898.0,426.0 899.0,416.4 900.0,415.3 901.0,414.8 902.0,414.5 903.0,414.4 905.0,414.4 906.0,414.5 907.0,414.9 908.0,415.5 909.0,416.8 909.5,418.9 L909.5,471.2 909.0,472.5 908.0,473.6 907.0,474.3 906.0,474.6 905.0,474.7 899.0,474.7 898.0,474.7 897.0,474.4 896.0,473.9 895.0,473.0 894.0,470.2Z"/>
<path fill="#008b8b" d="M906.4,426.0 907.4,422.0 908.4,420.9 909.4,420.4 910.4,420.1 911.4,420.0 912.4,420.1 913.4,420.5 914.4,421.1 915.4,422.4 915.9,424.5 L915.9,471.2 915.4,472.5 914.4,473.6 913.4,474.3 912.4,474.6 911.4,474.7 910.4,474.7 909.4,474.4 908.4,473.9 907.4,473.0 906.4,470.2Z"/>
<path fill="#020092" d="M910.0,436.5 911.0,432.1 912.0,430.0 913.0,428.0 914.0,424.4 915.0,423.3 916.0,422.8 917.0,422.5 918.0,422.4 920.0,422.4 921.0,422.5 922.0,422.9 923.0,423.5 924.0,424.7 925.0,426.8 926.0,429.0 928.0,430.7 929.0,432.0 929.5,434.0 L929.5,471.2 929.0,472.5 928.0,473.6 927.0,474.3 926.0,474.6 925.0,474.7 915.0,474.7 914.0,474.7 913.0,474.4 912.0,473.9 911.0,473.0 910.0,470.2Z"/>
<path fill="#008b8b" d="M929.0,432.5 930.0,428.1 931.0,426.0 932.0,424.0 933.0,394.4 934.0,393.3 935.0,392.8 936.0,392.5 937.0,392.4 938.0,392.4 939.0,392.6 940.0,393.0 941.0,393.8 942.0,395.4 942.2,396.9 L942.2,471.4 942.0,472.1 941.0,473.5 940.0,474.2 939.0,474.6 938.0,474.7 934.0,474.7 933.0,474.7 932.0,474.4 931.0,473.9 930.0,473.0 929.0,470.2Z"/>
<path fill="#020092" d="M937.0,436.5 938.0,432.9 939.0,431.6 940.0,430.9 941.0,430.3 942.0,420.6 943.0,419.0 944.0,418.2 945.0,417.8 946.0,417.6 948.0,417.6 949.0,417.8 950.0,418.2 951.0,419.0 952.0,420.6 953.0,443.0 954.0,448.0 954.2,449.5 L954.2,471.4 954.0,472.1 953.0,473.5 952.0,474.2 951.0,474.6 950.0,474.7 942.0,474.7 941.0,474.7 940.0,474.4 939.0,473.9 938.0,473.0 937.0,470.2Z"/>
<line x1="67.3" x2="991.5" y1="365.0" y2="365.0" stroke="#c8646a" stroke-width="2.3"/>
<path d="M66.2,477.1 H991.5 V291.9" fill="none" stroke="#000" stroke-width="2.7" stroke-linejoin="miter"/>
<line x1="61.5" x2="67.3" y1="324.2" y2="324.2" stroke="#222" stroke-width="1.4"/>
<text x="58.7" y="332.2" text-anchor="end" font-family="'Liberation Serif', serif" font-weight="bold" font-size="20" fill="#000">6</text>
<line x1="61.5" x2="67.3" y1="372.6" y2="372.6" stroke="#222" stroke-width="1.4"/>
<text x="58.7" y="380.6" text-anchor="end" font-family="'Liberation Serif', serif" font-weight="bold" font-size="20" fill="#000">4</text>
<line x1="61.5" x2="67.3" y1="421.0" y2="421.0" stroke="#222" stroke-width="1.4"/>
<text x="58.7" y="429.0" text-anchor="end" font-family="'Liberation Serif', serif" font-weight="bold" font-size="20" fill="#000">2</text>
<line x1="61.5" x2="67.3" y1="469.3" y2="469.3" stroke="#222" stroke-width="1.4"/>
<text x="58.7" y="477.3" text-anchor="end" font-family="'Liberation Serif', serif" font-weight="bold" font-size="20" fill="#000">0</text>
<line x1="187.0" x2="187.0" y1="478.3" y2="481.4" stroke="#555" stroke-width="1"/>
<line x1="312.8" x2="312.8" y1="478.3" y2="481.4" stroke="#555" stroke-width="1"/>
<line x1="406.4" x2="406.4" y1="478.3" y2="481.4" stroke="#555" stroke-width="1"/>
<line x1="483.2" x2="483.2" y1="478.3" y2="481.4" stroke="#555" stroke-width="1"/>
<line x1="540.8" x2="540.8" y1="478.3" y2="481.4" stroke="#555" stroke-width="1"/>
<line x1="579.2" x2="579.2" y1="478.3" y2="481.4" stroke="#555" stroke-width="1"/>
<line x1="612.8" x2="612.8" y1="478.3" y2="481.4" stroke="#555" stroke-width="1"/>
<line x1="642.6" x2="642.6" y1="478.3" y2="481.4" stroke="#555" stroke-width="1"/>
<line x1="669.8" x2="669.8" y1="478.3" y2="481.4" stroke="#555" stroke-width="1"/>
<line x1="700.8" x2="700.8" y1="478.3" y2="481.4" stroke="#555" stroke-width="1"/>
<line x1="723.8" x2="723.8" y1="478.3" y2="481.4" stroke="#555" stroke-width="1"/>
<line x1="747.2" x2="747.2" y1="478.3" y2="481.4" stroke="#555" stroke-width="1"/>
<line x1="766.4" x2="766.4" y1="478.3" y2="481.4" stroke="#555" stroke-width="1"/>
<line x1="775.0" x2="775.0" y1="478.3" y2="481.4" stroke="#555" stroke-width="1"/>
<line x1="790.4" x2="790.4" y1="478.3" y2="481.4" stroke="#555" stroke-width="1"/>
<line x1="802.2" x2="802.2" y1="478.3" y2="481.4" stroke="#555" stroke-width="1"/>
<line x1="818.2" x2="818.2" y1="478.3" y2="481.4" stroke="#555" stroke-width="1"/>
<line x1="832.0" x2="832.0" y1="478.3" y2="481.4" stroke="#555" stroke-width="1"/>
<line x1="846.4" x2="846.4" y1="478.3" y2="481.4" stroke="#555" stroke-width="1"/>
<line x1="861.4" x2="861.4" y1="478.3" y2="481.4" stroke="#555" stroke-width="1"/>
<line x1="875.2" x2="875.2" y1="478.3" y2="481.4" stroke="#555" stroke-width="1"/>
<line x1="885.8" x2="885.8" y1="478.3" y2="481.4" stroke="#555" stroke-width="1"/>
<line x1="895.0" x2="895.0" y1="478.3" y2="481.4" stroke="#555" stroke-width="1"/>
<line x1="905.0" x2="905.0" y1="478.3" y2="481.4" stroke="#555" stroke-width="1"/>
<line x1="914.6" x2="914.6" y1="478.3" y2="481.4" stroke="#555" stroke-width="1"/>
<line x1="923.8" x2="923.8" y1="478.3" y2="481.4" stroke="#555" stroke-width="1"/>
<line x1="936.0" x2="936.0" y1="478.3" y2="481.4" stroke="#555" stroke-width="1"/>
<line x1="946.2" x2="946.2" y1="478.3" y2="481.4" stroke="#555" stroke-width="1"/>
<text x="187.0" y="501.5" text-anchor="middle" font-family="'Liberation Serif', serif" font-weight="bold" font-size="20" fill="#000">1</text>
<text x="312.8" y="501.5" text-anchor="middle" font-family="'Liberation Serif', serif" font-weight="bold" font-size="20" fill="#000">2</text>
<text x="406.4" y="501.5" text-anchor="middle" font-family="'Liberation Serif', serif" font-weight="bold" font-size="20" fill="#000">3</text>
<text x="483.2" y="501.5" text-anchor="middle" font-family="'Liberation Serif', serif" font-weight="bold" font-size="20" fill="#000">4</text>
<text x="540.8" y="501.5" text-anchor="middle" font-family="'Liberation Serif', serif" font-weight="bold" font-size="20" fill="#000">5</text>
<text x="579.2" y="501.5" text-anchor="middle" font-family="'Liberation Serif', serif" font-weight="bold" font-size="20" fill="#000">6</text>
<text x="612.8" y="501.5" text-anchor="middle" font-family="'Liberation Serif', serif" font-weight="bold" font-size="20" fill="#000">7</text>
<text x="642.6" y="501.5" text-anchor="middle" font-family="'Liberation Serif', serif" font-weight="bold" font-size="20" fill="#000">8</text>
<text x="669.8" y="501.5" text-anchor="middle" font-family="'Liberation Serif', serif" font-weight="bold" font-size="20" fill="#000">9</text>
<text x="723.8" y="501.5" text-anchor="middle" font-family="'Liberation Serif', serif" font-weight="bold" font-size="20" fill="#000">11</text>
<text x="766.4" y="501.5" text-anchor="middle" font-family="'Liberation Serif', serif" font-weight="bold" font-size="20" fill="#000">13</text>
<text x="818.2" y="501.5" text-anchor="middle" font-family="'Liberation Serif', serif" font-weight="bold" font-size="20" fill="#000">17</text>
<text x="875.2" y="501.5" text-anchor="middle" font-family="'Liberation Serif', serif" font-weight="bold" font-size="20" fill="#000">21</text>
<text x="923.8" y="501.5" text-anchor="middle" font-family="'Liberation Serif', serif" font-weight="bold" font-size="20" fill="#000">26</text>
<text x="527.8" y="529.8" text-anchor="middle" font-family="'Liberation Serif', serif" font-weight="bold" font-size="28.4" fill="#000">Chromosome</text>
<text transform="translate(37.6,385.9) rotate(-90)" text-anchor="middle" font-family="'Liberation Serif', serif" font-weight="bold" font-size="29.2" fill="#000">-log10_Pvalue</text>
</g>
<g>
<text x="4.8" y="535.9" font-family="'Liberation Sans', sans-serif" font-weight="bold" font-size="21.3" fill="#000">C</text>
<rect x="67.3" y="547.0" width="924.2" height="184.1" fill="#fff" stroke="#303030" stroke-width="2.2"/>
<path fill="#008b8b" d="M103.6,709.1 104.6,706.3 105.6,705.4 106.6,704.9 107.6,704.6 109.6,704.6 110.6,704.7 111.6,705.0 112.6,705.6 113.6,705.1 114.6,703.6 115.6,701.8 117.6,697.8 118.6,690.7 119.6,689.4 123.6,685.4 124.6,679.4 125.6,678.1 126.6,677.5 127.6,677.1 128.6,677.0 129.6,677.0 130.6,677.2 131.6,677.6 132.6,678.4 133.6,680.0 134.6,685.4 135.6,686.2 136.6,687.0 137.6,688.7 138.6,703.0 141.6,703.0 142.6,701.8 145.6,695.8 146.6,690.0 147.6,676.0 148.6,674.9 149.6,674.4 150.6,674.1 151.6,674.0 152.6,664.3 153.6,663.0 154.6,662.3 155.6,554.5 156.6,551.7 157.6,550.8 158.6,550.3 159.6,550.0 161.6,550.0 162.6,550.2 163.6,550.6 164.6,551.4 165.6,553.0 166.6,693.6 167.6,694.0 171.6,694.0 172.6,694.2 173.6,694.6 174.6,695.4 175.6,697.0 176.6,695.1 177.6,693.4 178.6,692.7 179.6,692.2 180.6,692.0 186.6,692.0 187.6,690.8 188.6,687.4 189.6,686.1 190.6,685.5 191.6,685.1 192.6,685.0 193.6,685.0 194.6,685.2 195.6,685.6 196.6,686.4 197.6,688.0 198.6,695.3 199.6,695.8 200.6,696.0 205.6,696.0 206.6,690.4 207.6,689.1 208.6,688.5 209.6,688.1 210.6,688.0 212.6,688.0 213.6,688.0 214.6,688.3 215.6,688.8 216.6,689.6 217.6,691.2 218.6,692.6 222.6,696.6 223.6,697.0 227.6,697.0 228.6,674.0 229.6,672.9 230.6,672.4 231.6,672.1 232.6,672.0 233.6,672.0 234.6,672.2 235.6,672.6 236.6,673.4 237.6,675.0 238.6,686.1 241.6,686.7 242.6,687.0 243.6,687.5 244.6,688.4 245.6,691.2 246.6,698.2 249.6,698.9 250.6,696.4 251.6,694.8 252.6,694.0 253.6,693.6 254.6,693.4 257.6,693.4 258.6,693.6 259.6,694.0 260.6,694.8 261.6,696.4 261.9,697.9 L261.9,725.2 261.6,725.9 260.6,727.3 259.6,728.0 258.6,728.4 257.6,728.5 108.6,728.5 107.6,728.5 106.6,728.2 105.6,727.7 104.6,726.8 103.6,724.0Z"/>
<path fill="#020092" d="M259.6,688.5 260.6,685.7 261.6,684.8 262.6,684.3 263.6,684.0 265.6,684.0 266.6,684.0 267.6,684.3 268.6,684.8 269.6,685.7 270.6,688.0 280.6,688.0 281.6,688.0 282.6,688.3 283.6,688.8 284.6,689.7 285.6,692.5 286.6,695.9 287.6,695.4 288.6,695.1 289.6,695.0 293.6,695.0 294.6,670.4 295.6,669.3 296.6,668.8 297.6,668.5 298.6,668.4 300.6,668.4 301.6,668.5 302.6,668.8 303.6,669.3 304.6,670.4 305.6,691.1 308.6,691.9 309.6,692.2 310.6,692.8 311.6,693.9 312.6,704.0 314.6,704.0 315.6,687.4 316.6,686.1 317.6,685.5 318.6,685.1 319.6,685.0 321.6,685.0 322.6,685.3 323.6,685.8 324.6,686.7 325.6,689.5 326.6,695.0 328.6,695.0 329.6,694.5 330.6,694.2 331.6,694.0 334.6,694.0 335.6,694.2 336.6,694.6 337.6,695.4 338.6,696.9 339.6,699.0 340.6,699.0 341.6,691.4 342.6,690.1 343.6,689.5 344.6,689.1 345.6,689.0 346.6,689.0 347.6,681.0 348.6,679.9 349.6,679.4 350.6,679.1 351.6,679.0 352.6,679.0 353.6,679.2 354.6,679.6 355.6,680.4 356.6,682.0 357.6,695.1 358.6,695.4 359.6,695.9 360.6,696.8 361.6,698.4 361.9,699.9 L361.9,725.2 361.6,725.9 360.6,727.3 359.6,728.0 358.6,728.4 357.6,728.5 264.6,728.5 263.6,728.5 262.6,728.2 261.6,727.7 260.6,726.8 259.6,724.0Z"/>
<path fill="#008b8b" d="M357.4,700.7 358.4,697.8 359.4,696.7 360.4,695.5 362.4,692.8 363.4,686.0 364.4,684.4 365.4,683.6 366.4,683.2 367.4,683.0 369.4,683.0 370.4,683.3 371.4,683.8 372.4,684.7 373.4,687.5 374.4,692.1 376.4,692.2 377.4,692.4 378.4,692.7 379.4,693.4 380.4,694.7 381.4,697.7 382.4,697.1 383.4,696.5 384.4,696.1 385.4,696.0 389.4,696.0 390.4,696.0 391.4,696.2 392.4,696.6 393.4,697.4 397.4,701.4 398.4,702.0 403.4,702.0 404.4,681.0 405.4,679.0 406.4,677.9 407.4,677.4 408.4,677.1 409.4,677.0 414.4,677.0 415.4,677.2 416.4,677.6 417.4,678.4 418.4,679.8 419.4,681.8 420.4,689.0 421.4,689.0 422.4,675.0 423.4,673.4 424.4,672.6 425.4,672.2 426.4,672.0 429.4,672.0 430.4,672.0 431.4,672.3 432.4,672.8 433.4,673.7 434.4,676.5 435.4,699.3 437.4,699.8 438.4,687.0 439.4,685.4 440.4,684.6 441.4,684.2 442.4,684.0 444.4,684.0 445.4,684.3 446.4,684.8 447.4,685.7 448.4,688.5 L448.4,725.4 447.4,727.1 446.4,727.9 445.4,728.3 444.4,728.5 362.4,728.5 361.4,728.5 360.4,728.2 359.4,727.7 358.4,726.8 357.4,724.0Z"/>
<path fill="#020092" d="M444.4,696.5 445.4,693.7 446.4,692.8 447.4,692.3 448.4,692.0 453.4,692.0 454.4,688.0 455.4,686.4 456.4,685.6 457.4,685.2 458.4,685.0 459.4,685.0 460.4,685.1 461.4,685.5 462.4,686.1 463.4,687.4 464.4,690.0 468.4,690.0 469.4,690.0 470.4,690.3 471.4,690.8 472.4,691.7 473.4,694.5 474.4,711.0 476.4,711.0 477.4,699.0 478.4,697.4 479.4,696.6 480.4,696.2 481.4,696.0 485.4,696.0 486.4,666.0 487.4,664.9 488.4,664.4 489.4,664.1 490.4,664.0 495.4,664.0 496.4,662.4 497.4,661.1 498.4,660.5 499.4,660.1 500.4,660.0 502.4,660.0 503.4,660.0 504.4,660.3 505.4,660.8 506.4,661.7 507.4,664.5 508.4,689.2 511.4,689.9 512.4,690.2 513.4,690.8 514.4,691.7 515.4,694.5 L515.4,725.4 514.4,727.1 513.4,727.9 512.4,728.3 511.4,728.5 449.4,728.5 448.4,728.5 447.4,728.2 446.4,727.7 445.4,726.8 444.4,724.0Z"/>
<path fill="#008b8b" d="M511.0,718.7 512.0,715.0 513.0,712.0 515.0,707.3 516.0,705.2 517.0,703.8 521.0,699.0 523.0,695.0 524.0,685.0 525.0,683.9 526.0,683.4 527.0,683.1 528.0,683.0 531.0,683.0 532.0,676.4 533.0,674.8 534.0,674.0 535.0,673.6 536.0,673.4 538.0,673.4 539.0,673.6 540.0,674.0 541.0,674.8 542.0,676.4 543.0,693.1 547.0,694.0 548.0,692.4 549.0,691.6 550.0,691.2 551.0,691.0 553.0,691.0 554.0,691.0 555.0,691.3 556.0,691.8 557.0,692.7 558.0,695.0 560.0,695.8 561.0,696.3 562.0,697.2 563.0,700.0 L563.0,724.3 562.0,726.8 561.0,727.7 560.0,728.2 559.0,728.5 516.0,728.5 515.0,728.5 514.0,728.2 513.0,727.7 512.0,726.8 511.0,724.0Z"/>
<path fill="#020092" d="M558.0,713.9 559.0,710.5 564.0,698.0 565.0,686.0 566.0,684.9 567.0,684.4 568.0,684.1 569.0,684.0 571.0,684.0 572.0,684.3 573.0,684.8 574.0,685.7 575.0,688.5 576.0,691.2 579.0,695.0 581.0,695.0 582.0,682.0 583.0,680.4 584.0,679.6 585.0,679.2 586.0,679.0 588.0,679.0 589.0,679.1 590.0,679.5 591.0,680.1 592.0,681.4 593.0,699.5 594.0,700.7 595.0,703.6 L595.0,724.3 594.0,726.8 593.0,727.7 592.0,728.2 591.0,728.5 563.0,728.5 562.0,728.5 561.0,728.2 560.0,727.7 559.0,726.8 558.0,724.0Z"/>
<path fill="#008b8b" d="M593.0,706.1 594.0,703.1 595.0,701.2 596.0,691.0 597.0,689.4 598.0,688.6 599.0,688.2 600.0,688.0 601.0,688.0 602.0,688.1 603.0,688.5 604.0,689.1 605.0,690.4 606.0,693.5 607.0,692.7 608.0,692.3 609.0,692.0 613.0,692.0 614.0,692.0 615.0,692.2 616.0,692.6 617.0,693.4 618.0,695.0 619.0,691.0 620.0,689.9 621.0,689.4 622.0,689.1 623.0,689.0 625.0,689.0 626.0,689.3 627.0,689.8 628.0,690.7 629.0,693.5 L629.0,724.3 628.0,726.8 627.0,727.7 626.0,728.2 625.0,728.5 598.0,728.5 597.0,728.5 596.0,728.2 595.0,727.7 594.0,726.8 593.0,724.0Z"/>
<path fill="#020092" d="M626.4,705.7 627.4,701.9 628.4,699.0 629.4,696.5 630.4,684.0 631.4,682.4 632.4,681.6 633.4,681.2 634.4,681.0 650.4,681.0 651.4,681.1 652.4,681.5 653.4,682.1 654.4,683.4 655.4,693.4 656.4,694.0 658.4,694.0 659.4,694.3 660.4,694.8 661.4,695.7 662.4,698.5 L662.4,724.3 661.4,726.8 660.4,727.7 659.4,728.2 658.4,728.5 631.4,728.5 630.4,728.5 629.4,728.2 628.4,727.7 627.4,726.8 626.4,724.0Z"/>
<path fill="#008b8b" d="M653.0,709.9 654.0,706.5 655.0,704.1 656.0,702.6 657.0,701.8 658.0,701.3 659.0,701.0 661.0,701.0 662.0,701.2 663.0,701.6 664.0,702.3 665.0,703.4 668.0,707.0 672.0,708.0 673.0,692.6 674.0,691.5 675.0,690.8 676.0,690.3 677.0,690.0 679.0,690.0 680.0,673.0 681.0,671.4 682.0,670.6 683.0,670.2 684.0,670.0 686.0,670.0 687.0,670.0 688.0,670.3 689.0,670.8 690.0,671.7 691.0,674.5 L691.0,724.3 690.0,726.8 689.0,727.7 688.0,728.2 687.0,728.5 658.0,728.5 657.0,728.5 656.0,728.2 655.0,727.7 654.0,726.8 653.0,724.0Z"/>
<path fill="#020092" d="M680.4,697.8 681.4,694.6 682.4,693.5 683.4,693.0 684.4,692.7 685.4,692.6 688.4,692.6 689.4,692.6 690.4,692.9 691.4,693.3 692.4,694.1 693.4,695.7 694.4,696.9 697.4,696.1 699.4,695.8 703.4,695.1 705.4,694.3 706.4,694.0 709.4,694.0 710.4,694.0 711.4,694.3 712.4,694.8 713.4,695.7 714.4,698.5 L714.4,724.3 713.4,726.8 712.4,727.7 711.4,728.2 710.4,728.5 685.4,728.5 684.4,728.5 683.4,728.2 682.4,727.7 681.4,726.8 680.4,724.0Z"/>
<path fill="#008b8b" d="M709.6,717.7 710.6,714.1 711.6,711.2 712.6,709.1 713.6,707.6 714.6,706.5 718.6,703.3 719.6,702.3 721.6,700.0 722.6,676.6 723.6,675.5 724.6,675.0 725.6,674.7 726.6,674.6 727.6,674.6 728.6,674.7 729.6,675.0 730.6,675.5 731.6,676.6 732.6,684.0 733.6,684.4 734.6,685.2 735.6,686.8 735.9,688.3 L735.9,725.2 735.6,725.9 734.6,727.3 733.6,728.0 732.6,728.4 731.6,728.5 714.6,728.5 713.6,728.5 712.6,728.2 711.6,727.7 710.6,726.8 709.6,724.0Z"/>
<path fill="#020092" d="M730.6,713.1 731.6,707.6 732.6,702.2 733.6,697.0 734.6,692.0 735.6,685.8 736.6,684.5 737.6,666.9 738.6,664.1 739.6,663.2 740.6,662.7 741.6,662.4 743.6,662.4 744.6,662.4 745.6,662.7 746.6,663.2 747.6,664.1 748.6,666.9 749.6,690.3 750.6,690.6 751.6,691.2 752.6,692.3 753.4,694.8 L753.4,725.2 752.6,726.7 751.6,727.7 750.6,728.2 749.6,728.5 735.6,728.5 734.6,728.5 733.6,728.2 732.6,727.7 731.6,726.8 730.6,724.0Z"/>
<path fill="#008b8b" d="M752.6,672.2 753.6,667.0 754.6,662.0 755.6,658.6 756.6,657.5 757.6,657.0 758.6,656.7 759.6,656.6 760.6,656.6 761.6,656.7 762.6,657.0 763.6,657.5 764.6,658.6 765.6,683.1 768.6,684.8 769.6,685.6 770.6,687.2 770.9,688.7 L770.9,725.2 770.6,725.9 769.6,727.3 768.6,728.0 767.6,728.4 766.6,728.5 757.6,728.5 756.6,728.5 755.6,728.2 754.6,727.7 753.6,726.8 752.6,724.0Z"/>
<path fill="#020092" d="M770.0,709.2 771.0,705.7 772.0,704.6 773.0,704.0 774.0,703.7 781.0,703.1 782.0,703.0 784.0,703.0 785.0,645.4 786.0,644.3 787.0,643.8 788.0,643.5 789.0,643.4 791.0,643.4 792.0,643.7 793.0,644.2 794.0,645.1 795.0,647.9 L795.0,724.3 794.0,726.8 793.0,727.7 792.0,728.2 791.0,728.5 775.0,728.5 774.0,728.5 773.0,728.2 772.0,727.7 771.0,726.8 770.0,724.0Z"/>
<path fill="#008b8b" d="M790.0,700.0 791.0,693.8 792.0,667.0 793.0,665.4 794.0,664.6 795.0,664.2 796.0,664.0 798.0,664.0 799.0,664.0 800.0,664.3 801.0,664.8 802.0,665.7 803.0,668.5 804.0,682.5 805.0,684.0 806.0,685.4 806.5,687.5 L806.5,725.0 806.0,726.3 805.0,727.4 804.0,728.1 803.0,728.4 802.0,728.5 795.0,728.5 794.0,728.5 793.0,728.2 792.0,727.7 791.0,726.8 790.0,724.0Z"/>
<path fill="#020092" d="M805.0,709.5 806.0,706.7 807.0,705.8 808.0,705.3 809.0,705.0 810.0,705.0 811.0,705.1 812.0,705.5 813.0,706.1 814.0,707.4 814.5,709.5 L814.5,724.0 814.0,726.1 813.0,727.4 812.0,728.0 811.0,728.4 810.0,728.5 809.0,728.5 808.0,728.2 807.0,727.7 806.0,726.8 805.0,724.0Z"/>
<path fill="#008b8b" d="M807.0,700.5 808.0,697.7 809.0,696.8 810.0,696.3 811.0,696.0 818.0,696.0 819.0,693.2 820.0,692.3 821.0,691.8 822.0,691.5 823.0,691.5 824.0,691.8 825.0,692.3 826.0,693.2 827.0,696.0 L827.0,724.3 826.0,726.8 825.0,727.7 824.0,728.2 823.0,728.5 812.0,728.5 811.0,728.5 810.0,728.2 809.0,727.7 808.0,726.8 807.0,724.0Z"/>
<path fill="#020092" d="M820.6,715.2 821.6,710.0 822.6,705.0 823.6,701.6 825.6,696.9 826.6,676.9 827.6,674.1 828.6,673.2 829.6,672.7 830.6,672.4 832.6,672.4 833.6,672.6 834.6,673.0 835.6,673.8 836.6,675.4 837.6,699.6 840.6,702.6 841.6,704.2 841.9,705.7 L841.9,725.2 841.6,725.9 840.6,727.3 839.6,728.0 838.6,728.4 837.6,728.5 825.6,728.5 824.6,728.5 823.6,728.2 822.6,727.7 821.6,726.8 820.6,724.0Z"/>
<path fill="#008b8b" d="M836.6,715.9 837.6,712.6 839.6,707.9 840.6,706.4 843.6,703.4 844.6,700.6 845.6,697.1 846.6,696.0 847.6,695.4 848.6,695.0 849.6,681.0 850.6,679.7 851.6,679.1 852.6,678.7 853.6,678.6 855.6,678.6 856.6,678.8 857.6,679.2 858.6,680.0 859.6,681.6 859.9,683.1 L859.9,725.2 859.6,725.9 858.6,727.3 857.6,728.0 856.6,728.4 855.6,728.5 841.6,728.5 840.6,728.5 839.6,728.2 838.6,727.7 837.6,726.8 836.6,724.0Z"/>
<path fill="#020092" d="M849.0,700.0 850.0,696.9 851.0,695.7 852.0,695.1 853.0,694.7 854.0,694.6 858.0,694.6 859.0,694.6 860.0,694.9 861.0,695.4 862.0,696.3 863.0,699.1 L863.0,724.3 862.0,726.8 861.0,727.7 860.0,728.2 859.0,728.5 854.0,728.5 853.0,728.5 852.0,728.2 851.0,727.7 850.0,726.8 849.0,724.0Z"/>
<path fill="#008b8b" d="M863.0,689.0 864.0,685.0 865.0,683.9 866.0,683.4 867.0,683.1 868.0,683.0 870.0,683.0 871.0,683.0 872.0,683.3 873.0,683.8 874.0,684.7 875.0,687.5 876.0,696.0 877.0,698.9 L877.0,724.3 876.0,726.8 875.0,727.7 874.0,728.2 873.0,728.5 868.0,728.5 867.0,728.5 866.0,728.2 865.0,727.7 864.0,726.8 863.0,724.0Z"/>
<path fill="#020092" d="M877.0,692.4 878.0,689.5 879.0,688.0 880.0,686.7 881.0,686.1 882.0,685.7 883.0,685.6 885.0,685.6 886.0,685.6 887.0,685.9 888.0,686.4 889.0,687.3 890.0,690.1 L890.0,724.3 889.0,726.8 888.0,727.7 887.0,728.2 886.0,728.5 882.0,728.5 881.0,728.5 880.0,728.2 879.0,727.7 878.0,726.8 877.0,724.0Z"/>
<path fill="#008b8b" d="M884.0,706.1 885.0,703.0 887.0,699.0 888.0,696.6 889.0,695.5 890.0,695.0 891.0,694.7 892.0,694.6 894.0,694.6 895.0,694.9 896.0,695.4 897.0,696.3 898.0,699.1 L898.0,724.3 897.0,726.8 896.0,727.7 895.0,728.2 894.0,728.5 889.0,728.5 888.0,728.5 887.0,728.2 886.0,727.7 885.0,726.8 884.0,724.0Z"/>
<path fill="#020092" d="M894.0,700.0 895.0,696.9 896.0,694.8 897.0,691.8 898.0,690.5 899.0,689.9 900.0,689.5 901.0,689.4 904.0,689.4 905.0,689.6 906.0,689.9 908.0,691.3 909.0,692.6 909.5,694.6 L909.5,725.0 909.0,726.3 908.0,727.4 907.0,728.1 906.0,728.4 905.0,728.5 899.0,728.5 898.0,728.5 897.0,728.2 896.0,727.7 895.0,726.8 894.0,724.0Z"/>
<path fill="#008b8b" d="M906.0,699.5 907.0,696.7 908.0,695.8 909.0,695.3 910.0,695.0 913.0,695.0 914.0,695.1 915.0,695.5 916.0,696.1 917.0,697.4 917.5,699.5 L917.5,725.0 917.0,726.3 916.0,727.4 915.0,728.1 914.0,728.4 913.0,728.5 911.0,728.5 910.0,728.5 909.0,728.2 908.0,727.7 907.0,726.8 906.0,724.0Z"/>
<path fill="#020092" d="M909.6,717.9 910.6,715.1 911.6,714.2 912.6,713.6 913.6,713.2 914.6,712.1 917.6,707.6 918.6,705.8 919.6,703.8 920.6,701.0 921.6,699.9 922.6,699.4 923.6,699.1 924.6,699.0 925.6,699.0 926.6,699.3 927.6,699.8 928.6,700.7 929.6,703.5 L929.6,724.3 928.6,726.8 927.6,727.7 926.6,728.2 925.6,728.5 914.6,728.5 913.6,728.5 912.6,728.2 911.6,727.7 910.6,726.8 909.6,724.0Z"/>
<path fill="#008b8b" d="M929.0,696.1 930.0,693.1 931.0,691.2 932.0,681.6 933.0,680.0 934.0,679.2 935.0,678.8 936.0,678.6 938.0,678.6 939.0,678.8 940.0,679.2 941.0,680.0 942.0,681.6 942.2,683.1 L942.2,725.2 942.0,725.9 941.0,727.3 940.0,728.0 939.0,728.4 938.0,728.5 934.0,728.5 933.0,728.5 932.0,728.2 931.0,727.7 930.0,726.8 929.0,724.0Z"/>
<path fill="#020092" d="M937.0,697.5 938.0,694.7 939.0,693.8 940.0,693.3 941.0,693.0 942.0,693.0 943.0,693.1 944.0,693.4 945.0,694.0 946.0,695.1 947.0,694.9 948.0,694.4 949.0,694.1 950.0,694.0 951.0,694.1 952.0,694.5 953.0,695.1 954.0,696.4 954.5,698.5 L954.5,724.9 954.0,726.2 953.0,727.4 952.0,728.1 951.0,728.4 950.0,728.5 942.0,728.5 941.0,728.5 940.0,728.2 939.0,727.7 938.0,726.8 937.0,724.0Z"/>
<line x1="67.3" x2="991.5" y1="656.8" y2="656.8" stroke="#cd3741" stroke-width="2.0"/>
<path d="M66.2,731.1 H991.5 V545.9" fill="none" stroke="#000" stroke-width="2.7" stroke-linejoin="miter"/>
<line x1="61.5" x2="67.3" y1="589.0" y2="589.0" stroke="#222" stroke-width="1.4"/>
<text x="58.7" y="597.0" text-anchor="end" font-family="'Liberation Serif', serif" font-weight="bold" font-size="20" fill="#000">9</text>
<line x1="61.5" x2="67.3" y1="633.6" y2="633.6" stroke="#222" stroke-width="1.4"/>
<text x="58.7" y="641.6" text-anchor="end" font-family="'Liberation Serif', serif" font-weight="bold" font-size="20" fill="#000">6</text>
<line x1="61.5" x2="67.3" y1="678.2" y2="678.2" stroke="#222" stroke-width="1.4"/>
<text x="58.7" y="686.2" text-anchor="end" font-family="'Liberation Serif', serif" font-weight="bold" font-size="20" fill="#000">3</text>
<line x1="61.5" x2="67.3" y1="722.8" y2="722.8" stroke="#222" stroke-width="1.4"/>
<text x="58.7" y="730.8" text-anchor="end" font-family="'Liberation Serif', serif" font-weight="bold" font-size="20" fill="#000">0</text>
<line x1="187.0" x2="187.0" y1="732.3" y2="735.4" stroke="#555" stroke-width="1"/>
<line x1="312.8" x2="312.8" y1="732.3" y2="735.4" stroke="#555" stroke-width="1"/>
<line x1="406.4" x2="406.4" y1="732.3" y2="735.4" stroke="#555" stroke-width="1"/>
<line x1="483.2" x2="483.2" y1="732.3" y2="735.4" stroke="#555" stroke-width="1"/>
<line x1="540.8" x2="540.8" y1="732.3" y2="735.4" stroke="#555" stroke-width="1"/>
<line x1="579.2" x2="579.2" y1="732.3" y2="735.4" stroke="#555" stroke-width="1"/>
<line x1="612.8" x2="612.8" y1="732.3" y2="735.4" stroke="#555" stroke-width="1"/>
<line x1="642.6" x2="642.6" y1="732.3" y2="735.4" stroke="#555" stroke-width="1"/>
<line x1="669.8" x2="669.8" y1="732.3" y2="735.4" stroke="#555" stroke-width="1"/>
<line x1="700.8" x2="700.8" y1="732.3" y2="735.4" stroke="#555" stroke-width="1"/>
<line x1="723.8" x2="723.8" y1="732.3" y2="735.4" stroke="#555" stroke-width="1"/>
<line x1="747.2" x2="747.2" y1="732.3" y2="735.4" stroke="#555" stroke-width="1"/>
<line x1="766.4" x2="766.4" y1="732.3" y2="735.4" stroke="#555" stroke-width="1"/>
<line x1="775.0" x2="775.0" y1="732.3" y2="735.4" stroke="#555" stroke-width="1"/>
<line x1="790.4" x2="790.4" y1="732.3" y2="735.4" stroke="#555" stroke-width="1"/>
<line x1="802.2" x2="802.2" y1="732.3" y2="735.4" stroke="#555" stroke-width="1"/>
<line x1="818.2" x2="818.2" y1="732.3" y2="735.4" stroke="#555" stroke-width="1"/>
<line x1="832.0" x2="832.0" y1="732.3" y2="735.4" stroke="#555" stroke-width="1"/>
<line x1="846.4" x2="846.4" y1="732.3" y2="735.4" stroke="#555" stroke-width="1"/>
<line x1="861.4" x2="861.4" y1="732.3" y2="735.4" stroke="#555" stroke-width="1"/>
<line x1="875.2" x2="875.2" y1="732.3" y2="735.4" stroke="#555" stroke-width="1"/>
<line x1="885.8" x2="885.8" y1="732.3" y2="735.4" stroke="#555" stroke-width="1"/>
<line x1="895.0" x2="895.0" y1="732.3" y2="735.4" stroke="#555" stroke-width="1"/>
<line x1="905.0" x2="905.0" y1="732.3" y2="735.4" stroke="#555" stroke-width="1"/>
<line x1="914.6" x2="914.6" y1="732.3" y2="735.4" stroke="#555" stroke-width="1"/>
<line x1="923.8" x2="923.8" y1="732.3" y2="735.4" stroke="#555" stroke-width="1"/>
<line x1="936.0" x2="936.0" y1="732.3" y2="735.4" stroke="#555" stroke-width="1"/>
<line x1="946.2" x2="946.2" y1="732.3" y2="735.4" stroke="#555" stroke-width="1"/>
<text x="187.0" y="755.5" text-anchor="middle" font-family="'Liberation Serif', serif" font-weight="bold" font-size="20" fill="#000">1</text>
<text x="312.8" y="755.5" text-anchor="middle" font-family="'Liberation Serif', serif" font-weight="bold" font-size="20" fill="#000">2</text>
<text x="406.4" y="755.5" text-anchor="middle" font-family="'Liberation Serif', serif" font-weight="bold" font-size="20" fill="#000">3</text>
<text x="483.2" y="755.5" text-anchor="middle" font-family="'Liberation Serif', serif" font-weight="bold" font-size="20" fill="#000">4</text>
<text x="540.8" y="755.5" text-anchor="middle" font-family="'Liberation Serif', serif" font-weight="bold" font-size="20" fill="#000">5</text>
<text x="579.2" y="755.5" text-anchor="middle" font-family="'Liberation Serif', serif" font-weight="bold" font-size="20" fill="#000">6</text>
<text x="612.8" y="755.5" text-anchor="middle" font-family="'Liberation Serif', serif" font-weight="bold" font-size="20" fill="#000">7</text>
<text x="642.6" y="755.5" text-anchor="middle" font-family="'Liberation Serif', serif" font-weight="bold" font-size="20" fill="#000">8</text>
<text x="669.8" y="755.5" text-anchor="middle" font-family="'Liberation Serif', serif" font-weight="bold" font-size="20" fill="#000">9</text>
<text x="723.8" y="755.5" text-anchor="middle" font-family="'Liberation Serif', serif" font-weight="bold" font-size="20" fill="#000">11</text>
<text x="766.4" y="755.5" text-anchor="middle" font-family="'Liberation Serif', serif" font-weight="bold" font-size="20" fill="#000">13</text>
<text x="818.2" y="755.5" text-anchor="middle" font-family="'Liberation Serif', serif" font-weight="bold" font-size="20" fill="#000">17</text>
<text x="875.2" y="755.5" text-anchor="middle" font-family="'Liberation Serif', serif" font-weight="bold" font-size="20" fill="#000">21</text>
<text x="923.8" y="755.5" text-anchor="middle" font-family="'Liberation Serif', serif" font-weight="bold" font-size="20" fill="#000">26</text>
<text x="527.8" y="783.8" text-anchor="middle" font-family="'Liberation Serif', serif" font-weight="bold" font-size="28.4" fill="#000">Chromosome</text>
<text transform="translate(37.6,639.4) rotate(-90)" text-anchor="middle" font-family="'Liberation Serif', serif" font-weight="bold" font-size="29.2" fill="#000">-log10_Pvalue</text>
</g>
</svg>
</body></html>
